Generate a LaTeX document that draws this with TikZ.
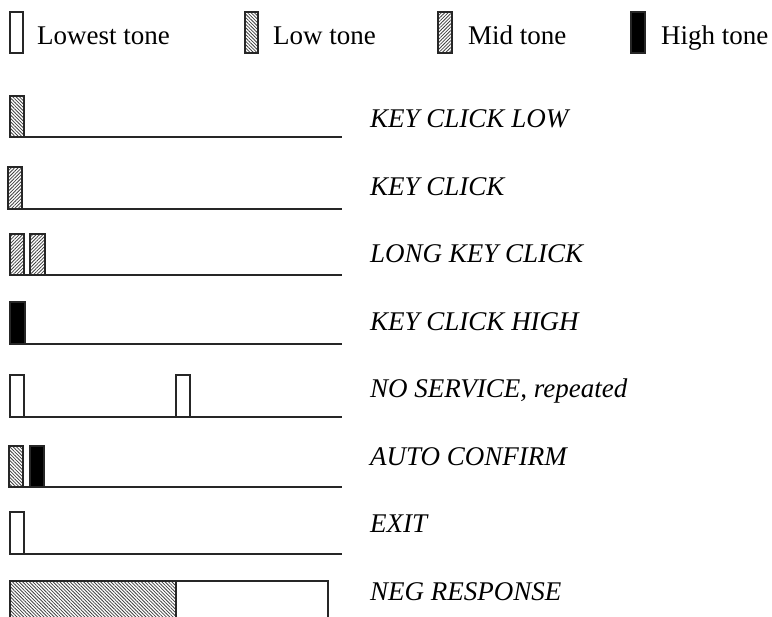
\documentclass[tikz,border=0pt]{standalone}
\usepackage{fontspec}
\setmainfont{Liberation Serif}
\usetikzlibrary{patterns.meta}
\tikzset{
  txt/.style={anchor=base west, inner sep=0pt, font=\fontsize{27}{32}\selectfont},
  lbl/.style={txt, font=\fontsize{27}{32}\selectfont\itshape},
  tonebox/.style={draw=black!85, line width=1.3pt},
  lowest/.style={tonebox, fill=white},
  lowt/.style={tonebox, pattern={Lines[angle=-45, distance=2.4pt, line width=0.8pt]}, pattern color=black!75},
  midt/.style={tonebox, pattern={Lines[angle=45, distance=2.4pt, line width=0.8pt]}, pattern color=black!75},
  hight/.style={tonebox, fill=black},
  trackline/.style={draw=black!85, line width=1.3pt},
}
\begin{document}
\begin{tikzpicture}[x=1pt,y=-1pt]
\useasboundingbox (0,0) rectangle (772,617);
\clip (0,0) rectangle (772,617);
% legend
\draw[lowest] (10,12) rectangle (23,53);
\node[txt] (l1) at (37,44.7) {Lowest tone};
\draw[lowt] (245,12) rectangle (258,53);
\node[txt] (l2) at (273,44.7) {Low tone};
\draw[midt] (438,12) rectangle (452,53);
\node[txt] (l3) at (468,44.7) {Mid tone};
\draw[hight] (631,12) rectangle (645,53);
\node[txt] (l4) at (661,44.7) {High tone};
% row 1
\draw[trackline] (9,137) -- (342,137);
\draw[lowt] (10,96) rectangle (24,137);
\node[lbl] (r1) at (370,127.7) {KEY CLICK LOW};
% row 2
\draw[trackline] (8,209) -- (342,209);
\draw[midt] (8,167) rectangle (22,209);
\node[lbl] (r2) at (370,195.2) {KEY CLICK};
% row 3
\draw[trackline] (9,275) -- (342,275);
\draw[midt] (10,234) rectangle (24,275);
\draw[midt] (30,234) rectangle (45,275);
\node[lbl] (r3) at (370,262.7) {LONG KEY CLICK};
% row 4
\draw[trackline] (9,344) -- (342,344);
\draw[hight] (10,302) rectangle (25,344);
\node[lbl] (r4) at (370,330.2) {KEY CLICK HIGH};
% row 5
\draw[trackline] (9,417) -- (342,417);
\draw[lowest] (10,375) rectangle (24,417);
\draw[lowest] (176,375) rectangle (190,417);
\node[lbl] (r5) at (370,397.7) {NO SERVICE, repeated};
% row 6
\draw[trackline] (9,487) -- (342,487);
\draw[lowt] (9,446) rectangle (23,487);
\draw[hight] (30,446) rectangle (44,487);
\node[lbl] (r6) at (370,465.2) {AUTO CONFIRM};
% row 7
\draw[trackline] (9,554) -- (342,554);
\draw[lowest] (10,512) rectangle (24,554);
\node[lbl] (r7) at (370,532.7) {EXIT};
% row 8
\draw[lowt] (10,581) rectangle (176,640);
\draw[tonebox] (176,581) -- (328,581) -- (328,640);
\node[lbl] (r8) at (370,600.2) {NEG RESPONSE};
\end{tikzpicture}
\end{document}
